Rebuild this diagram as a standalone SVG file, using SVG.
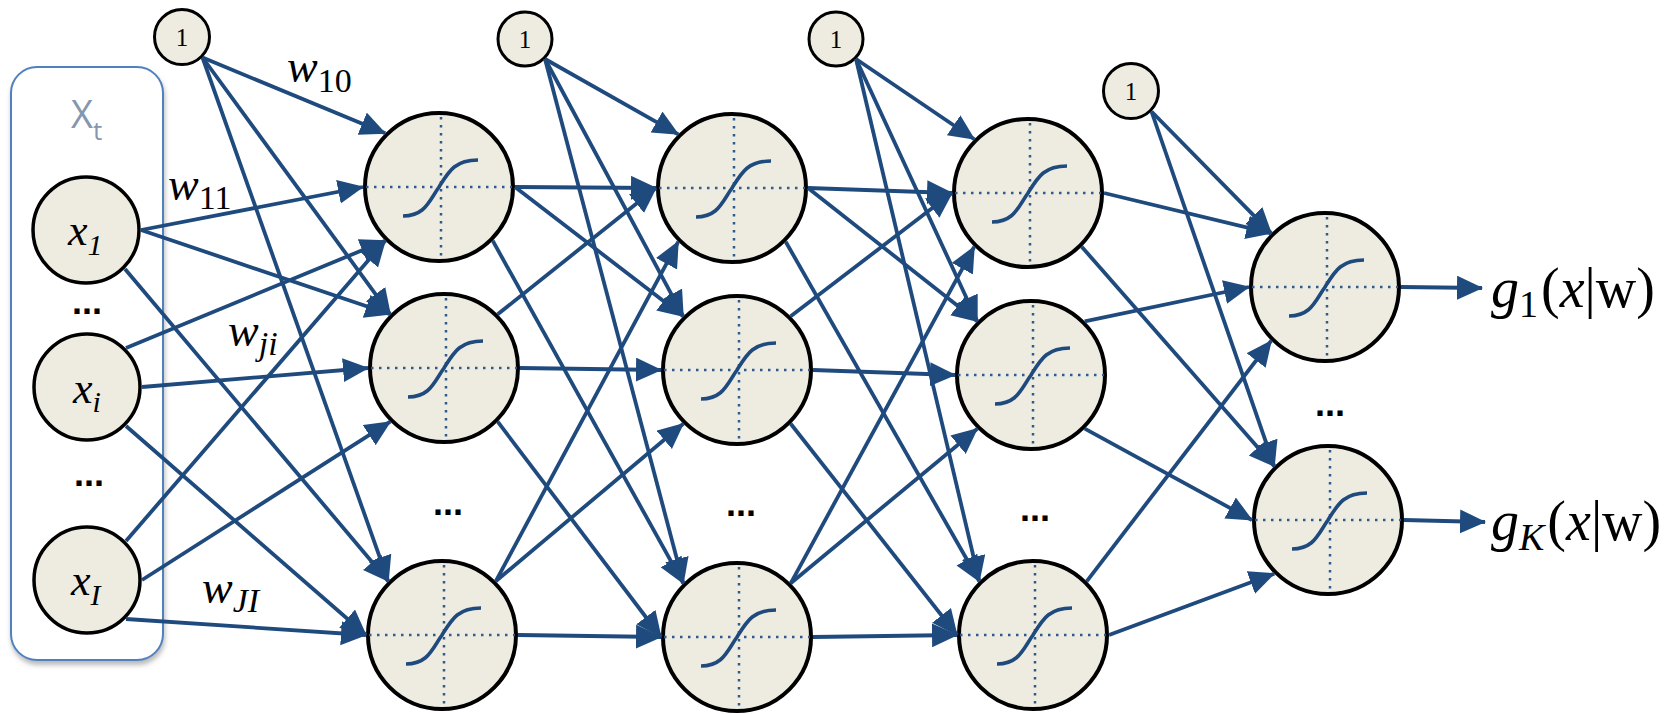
<svg xmlns="http://www.w3.org/2000/svg" xmlns:xlink="http://www.w3.org/1999/xlink" width="1667" height="714" viewBox="0 0 1667 714">
<style>
.bg{fill:#ffffff}
.box{fill:#ffffff;stroke:#4F81BD;stroke-width:2;filter:url(#sh)}
.n{fill:#EEECE1;stroke:#000;stroke-width:4}
.in{fill:#EEECE1;stroke:#000;stroke-width:3.5}
.b{fill:#EEECE1;stroke:#000;stroke-width:3}
.dot{stroke:#2E5B8F;stroke-width:2.5;stroke-dasharray:2.5 5.5;fill:none}
.sig{stroke:#1F4A7E;stroke-width:3.6;fill:none;stroke-linecap:butt}
.c line{stroke:#1F4A7E;stroke-width:3.8;marker-end:url(#ah)}
.m{font-family:"Liberation Serif",serif;font-style:italic;fill:#000}
.up{font-style:normal}
.one{font-family:"Liberation Serif",serif;font-size:25px;text-anchor:middle;fill:#000}
.dots{font-family:"Liberation Sans",sans-serif;font-weight:bold;font-size:36px;text-anchor:middle;fill:#000}
.xt{font-family:"Open Sans","Liberation Sans",sans-serif;fill:#8497B0}
</style>
<defs>
<marker id="ah" markerUnits="userSpaceOnUse" markerWidth="28" markerHeight="26" refX="25" refY="12" orient="auto">
<path d="M0,0 L26,12 L0,24 z" fill="#1F4A7E"/>
</marker>
<filter id="sh" x="-10%" y="-10%" width="120%" height="120%">
<feDropShadow dx="1" dy="4" stdDeviation="2.5" flood-color="#808080" flood-opacity="0.55"/>
</filter>
<g id="icon">
<path class="dot" d="M-73,0 H73"/>
<path class="dot" d="M2,-70 V70"/>
<path class="sig" d="M-36,29 C-14,29 -10,14 0,0 C10,-16 16,-27 39,-27"/>
</g>
</defs>
<rect class="bg" width="1667" height="714"/>

<g id="input-box">
<rect class="box" x="11" y="67" width="152" height="593" rx="26" ry="26"/>
<text class="xt" x="71" y="128" font-size="38">X<tspan font-size="26" dy="12">t</tspan></text>
<text class="dots" x="87" y="314">...</text>
<text class="dots" x="89" y="486">...</text>
</g>

<g id="x1"><circle class="in" cx="86" cy="230" r="53"/><text class="m" x="68" y="245" font-size="44">x<tspan font-size="30" dy="10">1</tspan></text></g>
<g id="xi"><circle class="in" cx="87" cy="387" r="53"/><text class="m" x="73" y="403" font-size="44">x<tspan font-size="30" dy="9">i</tspan></text></g>
<g id="xI"><circle class="in" cx="87" cy="580" r="53"/><text class="m" x="71" y="595" font-size="44">x<tspan font-size="30" dy="10">I</tspan></text></g>

<g id="b1"><circle class="b" cx="182" cy="37" r="27.5"/><text class="one" x="182" y="46">1</text></g>
<g id="b2"><circle class="b" cx="525" cy="39" r="27"/><text class="one" x="525" y="48">1</text></g>
<g id="b3"><circle class="b" cx="836" cy="39" r="27"/><text class="one" x="836" y="48">1</text></g>
<g id="b4"><circle class="b" cx="1131" cy="91" r="27.5"/><text class="one" x="1131" y="100">1</text></g>

<g id="h1-1"><circle class="n" cx="439" cy="187" r="74"/><use xlink:href="#icon" href="#icon" x="439" y="187"/></g>
<g id="h1-2"><circle class="n" cx="444" cy="368" r="74"/><use xlink:href="#icon" href="#icon" x="444" y="368"/></g>
<g id="h1-3"><circle class="n" cx="442" cy="635" r="74"/><use xlink:href="#icon" href="#icon" x="442" y="635"/></g>
<text class="dots" x="448" y="515">...</text>

<g id="h2-1"><circle class="n" cx="732" cy="188" r="74"/><use xlink:href="#icon" href="#icon" x="732" y="188"/></g>
<g id="h2-2"><circle class="n" cx="737" cy="370" r="74"/><use xlink:href="#icon" href="#icon" x="737" y="370"/></g>
<g id="h2-3"><circle class="n" cx="737" cy="637" r="74"/><use xlink:href="#icon" href="#icon" x="737" y="637"/></g>
<text class="dots" x="741" y="516">...</text>

<g id="h3-1"><circle class="n" cx="1028" cy="193" r="74"/><use xlink:href="#icon" href="#icon" x="1028" y="193"/></g>
<g id="h3-2"><circle class="n" cx="1031" cy="375" r="74"/><use xlink:href="#icon" href="#icon" x="1031" y="375"/></g>
<g id="h3-3"><circle class="n" cx="1033" cy="635" r="74"/><use xlink:href="#icon" href="#icon" x="1033" y="635"/></g>
<text class="dots" x="1035" y="521">...</text>

<g id="o1"><circle class="n" cx="1325" cy="287" r="74"/><use xlink:href="#icon" href="#icon" x="1325" y="287"/></g>
<g id="o2"><circle class="n" cx="1328" cy="520" r="74"/><use xlink:href="#icon" href="#icon" x="1328" y="520"/></g>
<text class="dots" x="1330" y="416">...</text>

<g id="connectors" class="c">
<line x1="141" y1="230" x2="363" y2="187"/>
<line x1="141" y1="230" x2="390.3" y2="314.3"/>
<line x1="125" y1="269" x2="388.3" y2="581.3"/>
<line x1="126" y1="348" x2="385.3" y2="240.7"/>
<line x1="142" y1="387" x2="368" y2="368"/>
<line x1="126" y1="426" x2="366" y2="635"/>
<line x1="126" y1="541" x2="385.3" y2="240.7"/>
<line x1="142" y1="580" x2="390.3" y2="421.7"/>
<line x1="126" y1="619" x2="366" y2="635"/>
<line x1="202.5" y1="57.5" x2="385.3" y2="133.3"/>
<line x1="202.5" y1="57.5" x2="390.3" y2="314.3"/>
<line x1="202.5" y1="57.5" x2="388.3" y2="581.3"/>

<line x1="515" y1="187" x2="656" y2="188"/>
<line x1="515" y1="187" x2="683.3" y2="316.3"/>
<line x1="492.7" y1="240.7" x2="683.3" y2="583.3"/>
<line x1="497.7" y1="314.3" x2="656" y2="188"/>
<line x1="520" y1="368" x2="661" y2="370"/>
<line x1="497.7" y1="421.7" x2="661" y2="637"/>
<line x1="495.7" y1="581.3" x2="678.3" y2="241.7"/>
<line x1="495.7" y1="581.3" x2="683.3" y2="423.7"/>
<line x1="518" y1="635" x2="661" y2="637"/>
<line x1="545" y1="59" x2="678.3" y2="134.3"/>
<line x1="545" y1="59" x2="683.3" y2="316.3"/>
<line x1="545" y1="59" x2="683.3" y2="583.3"/>

<line x1="808" y1="188" x2="952" y2="193"/>
<line x1="808" y1="188" x2="977.3" y2="321.3"/>
<line x1="785.7" y1="241.7" x2="979.3" y2="581.3"/>
<line x1="790.7" y1="316.3" x2="952" y2="193"/>
<line x1="813" y1="370" x2="955" y2="375"/>
<line x1="790.7" y1="423.7" x2="957" y2="635"/>
<line x1="790.7" y1="583.3" x2="974.3" y2="246.7"/>
<line x1="790.7" y1="583.3" x2="977.3" y2="428.7"/>
<line x1="813" y1="637" x2="957" y2="635"/>
<line x1="856" y1="59" x2="974.3" y2="139.3"/>
<line x1="856" y1="59" x2="977.3" y2="321.3"/>
<line x1="856" y1="59" x2="979.3" y2="581.3"/>

<line x1="1104" y1="193" x2="1271.3" y2="233.3"/>
<line x1="1081.7" y1="246.7" x2="1274.3" y2="466.3"/>
<line x1="1084.7" y1="321.3" x2="1249" y2="287"/>
<line x1="1084.7" y1="428.7" x2="1252" y2="520"/>
<line x1="1086.7" y1="581.3" x2="1271.3" y2="340.7"/>
<line x1="1109" y1="635" x2="1274.3" y2="573.7"/>
<line x1="1151.5" y1="111.5" x2="1271.3" y2="233.3"/>
<line x1="1151.5" y1="111.5" x2="1274.3" y2="466.3"/>

<line x1="1401" y1="287" x2="1482" y2="288"/>
<line x1="1404" y1="520" x2="1485" y2="522"/>
</g>

<g id="labels">
<text class="m" x="287" y="82" font-size="46">w<tspan class="up" font-size="34" dy="10">10</tspan></text>
<text class="m" x="168" y="200" font-size="46">w<tspan class="up" font-size="34" dy="9">11</tspan></text>
<text class="m" x="228" y="346" font-size="46">w<tspan font-size="34" dy="9">ji</tspan></text>
<text class="m" x="202" y="603" font-size="46">w<tspan font-size="34" dy="9">JI</tspan></text>
<text class="m" x="1491" y="307" font-size="56">g<tspan class="up" font-size="38" dy="10">1</tspan><tspan class="up" dx="3" dy="-10">(</tspan>x<tspan class="up">|w)</tspan></text>
<text class="m" x="1491" y="540" font-size="56">g<tspan font-size="38" dy="10">K</tspan><tspan class="up" dx="3" dy="-10">(</tspan>x<tspan class="up">|w)</tspan></text>
</g>
</svg>
